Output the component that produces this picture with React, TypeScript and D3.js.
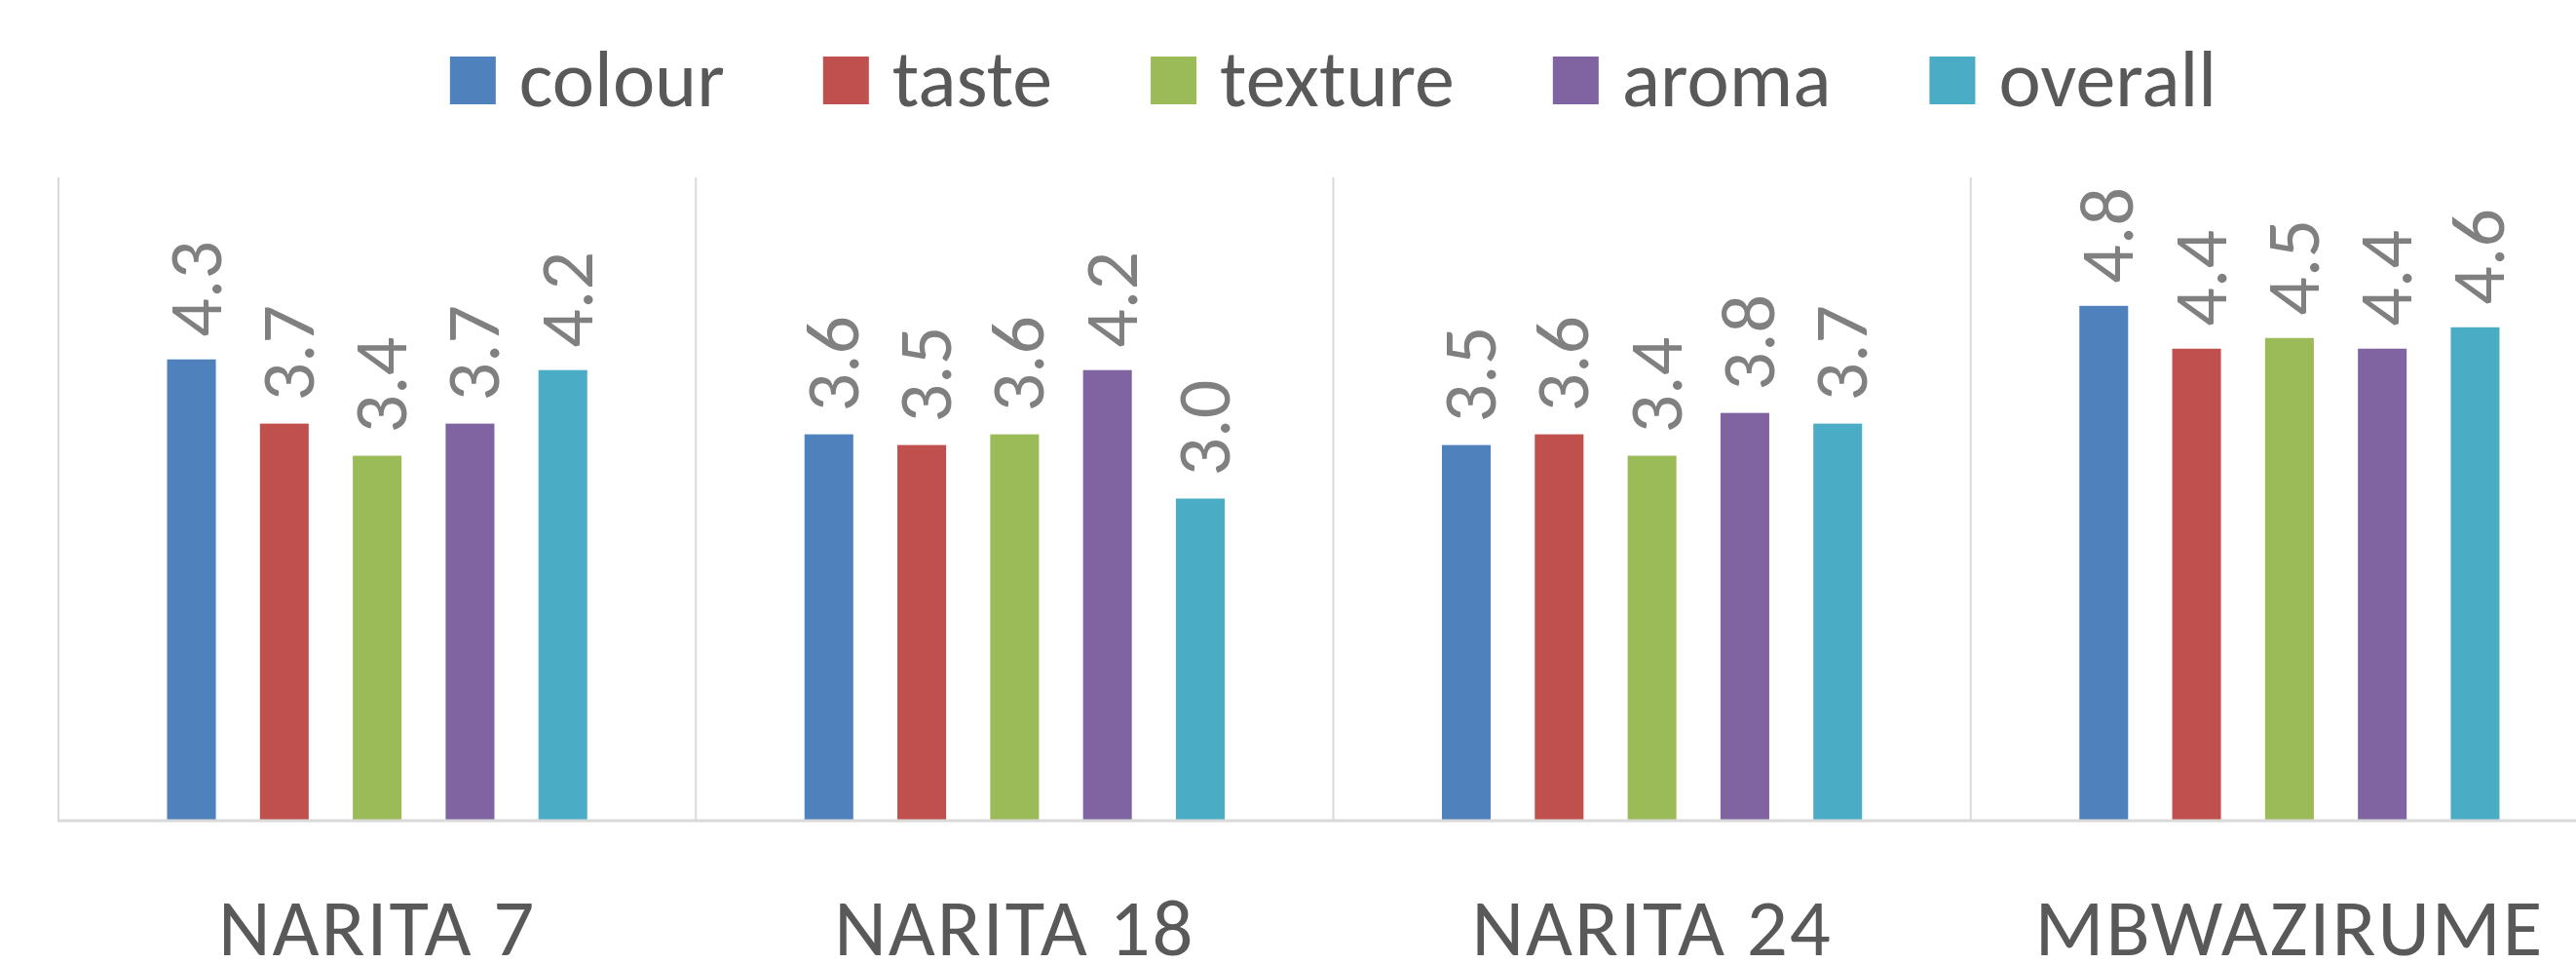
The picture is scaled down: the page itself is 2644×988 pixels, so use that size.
import React, { useEffect, useRef } from "react";
import * as d3 from "d3";

// Sensory scores per variety (scale 0-6)
const categories = ["NARITA 7", "NARITA 18", "NARITA 24", "MBWAZIRUME"];
const seriesNames = ["colour", "taste", "texture", "aroma", "overall"];
const colourScores = [4.3, 3.6, 3.5, 4.8];
const tasteScores = [3.7, 3.5, 3.6, 4.4];
const textureScores = [3.4, 3.6, 3.4, 4.5];
const aromaScores = [3.7, 4.2, 3.8, 4.4];
const overallScores = [4.2, 3.0, 3.7, 4.6];
const seriesColours = ["#4F81BD", "#C0504D", "#9BBB59", "#8064A2", "#4BACC6"];
const yDomain = [0, 6];

const seriesValues = [colourScores, tasteScores, textureScores, aromaScores, overallScores];

const WIDTH = 2644;
const HEIGHT = 988;
const FONT = "Carlito, Lato, 'Open Sans', sans-serif";

export default function App() {
  const ref = useRef<SVGSVGElement>(null);

  useEffect(() => {
    document.body.style.margin = "0";
    const svg = d3.select(ref.current);
    svg.selectAll("*").remove();

    const plotLeft = 60;
    const plotRight = 2677;
    const plotTop = 182;
    const plotBottom = 841;

    const x = d3.scaleBand<string>().domain(categories).range([plotLeft, plotRight]);
    const xs = d3
      .scaleBand<string>()
      .domain(seriesNames)
      .range([0, x.bandwidth()])
      .paddingInner(0.475)
      .paddingOuter(1.17);
    const y = d3.scaleLinear().domain(yDomain).range([plotBottom, plotTop]);

    // vertical separators between categories
    const seps = categories.map((c) => x(c) as number).concat([plotRight]);
    svg
      .append("g")
      .selectAll("line")
      .data(seps)
      .join("line")
      .attr("x1", (d) => d)
      .attr("x2", (d) => d)
      .attr("y1", plotTop)
      .attr("y2", plotBottom + 2)
      .attr("stroke", "#D9D9D9")
      .attr("stroke-width", 2);

    // bars and their labels
    const rows = categories.flatMap((c, ci) =>
      seriesNames.map((s, si) => ({ c, s, si, v: seriesValues[si][ci] }))
    );

    svg
      .append("g")
      .selectAll("rect")
      .data(rows)
      .join("rect")
      .attr("x", (d) => (x(d.c) as number) + (xs(d.s) as number))
      .attr("width", xs.bandwidth())
      .attr("y", (d) => y(d.v))
      .attr("height", (d) => y(0) - y(d.v))
      .attr("fill", (d) => seriesColours[d.si]);

    // category axis baseline
    svg
      .append("line")
      .attr("x1", plotLeft - 1)
      .attr("x2", WIDTH)
      .attr("y1", plotBottom + 1)
      .attr("y2", plotBottom + 1)
      .attr("stroke", "#D9D9D9")
      .attr("stroke-width", 3);

    svg
      .append("g")
      .selectAll("text")
      .data(rows)
      .join("text")
      .attr("transform", (d) => {
        const cx = (x(d.c) as number) + (xs(d.s) as number) + xs.bandwidth() / 2;
        return `translate(${cx + 30},${y(d.v) - 23}) rotate(-90)`;
      })
      .attr("font-family", FONT)
      .attr("font-size", 78)
      .attr("fill", "#808080")
      .text((d) => d.v.toFixed(1));

    // category labels
    svg
      .append("g")
      .selectAll("text")
      .data(categories)
      .join("text")
      .attr("x", (d) => (x(d) as number) + x.bandwidth() / 2)
      .attr("y", 980)
      .attr("text-anchor", "middle")
      .attr("font-family", FONT)
      .attr("font-size", 83)
      .attr("letter-spacing", 2)
      .attr("fill", "#595959")
      .text((d) => d);

    // legend, centred over the chart
    const keyW = 47;
    const keyH = 49;
    const keyGap = 24;
    const itemGap = 101;
    const legend = svg.append("g");
    const items = legend
      .selectAll("g")
      .data(seriesNames)
      .join("g");
    items
      .append("rect")
      .attr("width", keyW)
      .attr("height", keyH)
      .attr("y", 58)
      .attr("fill", (_, i) => seriesColours[i]);
    const labels = items
      .append("text")
      .attr("x", keyW + keyGap)
      .attr("y", 109)
      .attr("font-family", FONT)
      .attr("font-size", 82)
      .attr("fill", "#595959")
      .text((d) => d);
    const widths: number[] = [];
    labels.each(function () {
      widths.push((this as SVGTextElement).getComputedTextLength());
    });
    const total =
      widths.reduce((a, w) => a + keyW + keyGap + w, 0) + itemGap * (widths.length - 1);
    let cursor = (plotLeft + plotRight) / 2 - total / 2;
    const offsets = widths.map((w) => {
      const o = cursor;
      cursor += keyW + keyGap + w + itemGap;
      return o;
    });
    items.attr("transform", (_, i) => `translate(${offsets[i]},0)`);
  }, []);

  return <svg ref={ref} width={WIDTH} height={HEIGHT} style={{ display: "block", background: "#fff" }} />;
}
